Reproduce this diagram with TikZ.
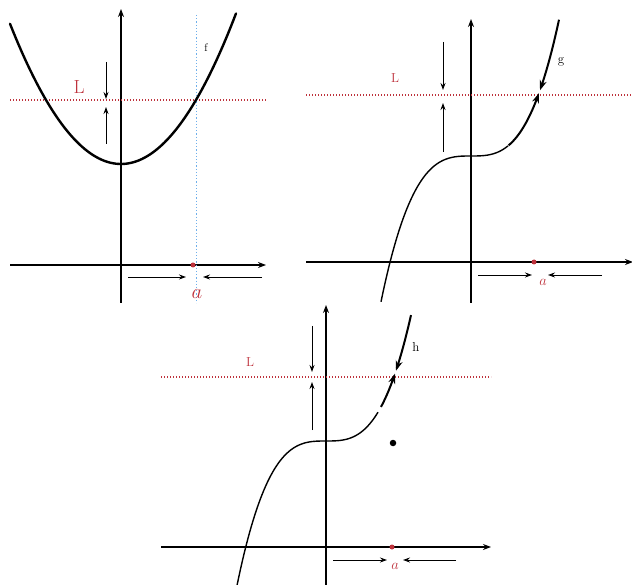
\documentclass[tikz,border=0pt]{standalone}
\usetikzlibrary{arrows.meta}
\definecolor{limred}{RGB}{190,50,60}
\definecolor{limblue}{RGB}{110,175,235}
\begin{document}
\begin{tikzpicture}[x=1pt,y=-1pt,
  axis/.style={line width=1.3pt,-{Stealth[length=8pt,width=6pt]}},
  levelline/.style={limred,line width=1.1pt,dash pattern=on 1.2pt off 1.8pt},
  vline/.style={limblue,line width=1pt,dash pattern=on 1.2pt off 2pt},
  hint/.style={line width=0.9pt,-{Stealth[length=7pt,width=5pt]}},
  thincurve/.style={line width=1.4pt},
  thickcurve/.style={line width=2.4pt},
  arrcurve/.style={line width=2pt,-{Stealth[length=10pt,width=7pt]}},
  redlab/.style={text=limred,inner sep=0pt},
  blacklab/.style={inner sep=0pt},
  reddot/.style={fill=limred,circle,inner sep=0pt,minimum size=5pt},
  blackdot/.style={fill=black,circle,inner sep=0pt,minimum size=6.5pt}]
\useasboundingbox (0,0) rectangle (632,585);

% ---------- panel 1 ----------
\coordinate (xa1s) at (10,265); \coordinate (xa1e) at (266,265);
\coordinate (ya1s) at (121,303); \coordinate (ya1e) at (121,9);
\draw[axis] (xa1s) -- (xa1e);
\draw[axis] (ya1s) -- (ya1e);
\coordinate (L1s) at (10,100); \coordinate (L1e) at (266,100);
\draw[levelline] (L1s) -- (L1e);
\coordinate (V1s) at (196,15); \coordinate (V1e) at (196,303);
\draw[vline] (V1s) -- (V1e);
\draw[thickcurve,line cap=round] plot[domain=10:236,samples=80] (\x,{164-0.01138*(\x-121)^2});
\node[redlab,font=\fontsize{19}{19}\selectfont] (L1) at (79,87) {L};
\node[redlab,font=\fontsize{20}{20}\selectfont] (a1) at (197,294) {$a$};
\node[blacklab,font=\fontsize{11}{11}\selectfont] (f) at (206,48) {f};
\node[reddot] (p1) at (193,265) {};
\coordinate (d1s) at (106,62); \coordinate (d1e) at (106,99);
\coordinate (u1s) at (106,144); \coordinate (u1e) at (106,107);
\draw[hint] (d1s) -- (d1e);
\draw[hint] (u1s) -- (u1e);
\coordinate (r1s) at (128,277); \coordinate (r1e) at (186,277);
\coordinate (l1s) at (262,277); \coordinate (l1e) at (203,277);
\draw[hint] (r1s) -- (r1e);
\draw[hint] (l1s) -- (l1e);

% ---------- panel 2 ----------
\coordinate (xa2s) at (306,262); \coordinate (xa2e) at (633,262);
\coordinate (ya2s) at (471,303); \coordinate (ya2e) at (471,19);
\draw[axis] (xa2s) -- (xa2e);
\draw[axis] (ya2s) -- (ya2e);
\coordinate (L2s) at (306,95); \coordinate (L2e) at (632,95);
\draw[levelline] (L2s) -- (L2e);
\draw[thincurve] plot[domain=381:508,samples=80] (\x,{156-0.2*((\x-471)/10)^3});
\draw[arrcurve] plot[domain=508.5:539,samples=20] (\x,{156-0.2*((\x-471)/10)^3});
\draw[arrcurve] plot[domain=559:540,samples=20] (\x,{156-0.2*((\x-471)/10)^3});
\node[redlab,font=\fontsize{13}{13}\selectfont] (L2) at (395,78) {L};
\node[redlab,font=\fontsize{14}{14}\selectfont] (a2) at (543,282) {$a$};
\node[blacklab,font=\fontsize{13}{13}\selectfont] (g) at (561,62) {g};
\node[reddot] (p2) at (534,262) {};
\coordinate (d2s) at (443,42); \coordinate (d2e) at (443,90);
\coordinate (u2s) at (443,152); \coordinate (u2e) at (443,103);
\draw[hint] (d2s) -- (d2e);
\draw[hint] (u2s) -- (u2e);
\coordinate (r2s) at (478,275); \coordinate (r2e) at (532,275);
\coordinate (l2s) at (602,275); \coordinate (l2e) at (548,275);
\draw[hint] (r2s) -- (r2e);
\draw[hint] (l2s) -- (l2e);

% ---------- panel 3 ----------
\coordinate (xa3s) at (161,547); \coordinate (xa3e) at (491,547);
\coordinate (ya3s) at (326,585); \coordinate (ya3e) at (326,305);
\draw[axis] (xa3s) -- (xa3e);
\draw[axis] (ya3s) -- (ya3e);
\coordinate (L3s) at (161,377); \coordinate (L3e) at (491,377);
\draw[levelline] (L3s) -- (L3e);
\draw[thincurve] plot[domain=237:378,samples=80] (\x,{441-0.205*((\x-326)/10)^3});
\draw[arrcurve] plot[domain=381:395,samples=20] (\x,{441-0.205*((\x-326)/10)^3});
\draw[arrcurve] plot[domain=411:396,samples=20] (\x,{441-0.205*((\x-326)/10)^3});
\node[blackdot] (hole) at (393,443) {};
\node[redlab,font=\fontsize{13}{13}\selectfont] (L3) at (250,362) {L};
\node[redlab,font=\fontsize{14}{14}\selectfont] (a3) at (395,566) {$a$};
\node[blacklab,font=\fontsize{13}{13}\selectfont] (h) at (416,347) {h};
\node[reddot] (p3) at (392,547) {};
\coordinate (d3s) at (312,326); \coordinate (d3e) at (312,372);
\coordinate (u3s) at (312,430); \coordinate (u3e) at (312,382);
\draw[hint] (d3s) -- (d3e);
\draw[hint] (u3s) -- (u3e);
\coordinate (r3s) at (333,560); \coordinate (r3e) at (387,560);
\coordinate (l3s) at (456,560); \coordinate (l3e) at (403,560);
\draw[hint] (r3s) -- (r3e);
\draw[hint] (l3s) -- (l3e);
\end{tikzpicture}
\end{document}
